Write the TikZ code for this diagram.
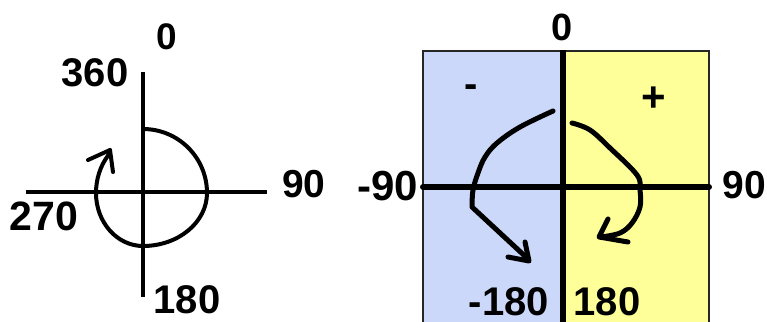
\documentclass[tikz,border=0pt]{standalone}
\usepackage{fontspec}
\setmainfont{Liberation Sans}
\definecolor{negblue}{RGB}{204,216,250}
\definecolor{posyellow}{RGB}{255,255,153}
\begin{document}
\begin{tikzpicture}[x=1pt,y=-1pt,
  lbl/.style={inner sep=0pt,font=\bfseries\fontsize{#1}{#1}\selectfont},
  axis/.style={line width=4pt},
  thickaxis/.style={line width=6pt},
  hand/.style={line width=5pt,line cap=round,line join=round},
  spiral/.style={line width=4pt,line cap=round,line join=round}]
\useasboundingbox (0,0) rectangle (767,321);
\clip (0,0) rectangle (767,321);
% ---------- left figure ----------
\coordinate (lt) at (143,72);
\coordinate (lb) at (143,297);
\coordinate (ll) at (26,192);
\coordinate (lr) at (267,192);
\draw[axis] (lt) -- (lb);
\draw[axis] (ll) -- (lr);
\draw[spiral] (143,129) arc[start angle=-90,end angle=0,radius=64]
  arc[start angle=0,end angle=90,x radius=64,y radius=53]
  arc[start angle=90,end angle=180,x radius=47,y radius=53]
  arc[start angle=180,end angle=222,x radius=47,y radius=56] -- (110,150);
\draw[spiral] (88,160) -- (110,150) -- (113,172);
\node[lbl=37] (l0) at (167,37) {0};
\node[lbl=40] (l360) at (95,73) {360};
\node[lbl=39] (l90) at (304,184) {90};
\node[lbl=41] (l270) at (44,216) {270};
\node[lbl=40] (l180) at (187,300) {180};
% ---------- right figure ----------
\fill[negblue] (423,51) rectangle (563,330);
\fill[posyellow] (563,51) rectangle (709,330);
\draw[line width=1.5pt,black!85] (423,330) -- (423,51) -- (709,51) -- (709,330);
\coordinate (rt) at (563,50);
\coordinate (rb) at (563,330);
\coordinate (rl) at (423,187);
\coordinate (rr) at (709,187);
\draw[thickaxis] (rt) -- (rb);
\draw[thickaxis,line cap=round] (rl) -- (rr);
% hand-drawn arrows
\draw[hand] plot[smooth,tension=0.6] coordinates {(553,111) (520,127) (497,143) (485,157) (478,173) (473,190) (472,207)} -- (527,258);
\draw[hand] (508,257) -- (529,261) -- (525,242);
\draw[hand] plot[smooth,tension=0.6] coordinates {(572,123) (590,130) (610,148) (637,175) (640,190) (640,207) (632,223) (620,233) (601,237)};
\draw[hand] (608,219) -- (599,237) -- (628,242);
\node[lbl=38] (r0) at (562,27) {0};
\node[lbl=42] (rm90) at (388,186) {-90};
\node[lbl=39] (r90) at (744,185) {90};
\node[lbl=40] (rminus) at (471,91) {-};
\node[lbl=42] (rplus) at (654,99) {+};
\node[lbl=40] (rm180) at (509,302) {-180};
\node[lbl=40] (r180) at (607,302) {180};
\end{tikzpicture}
\end{document}
